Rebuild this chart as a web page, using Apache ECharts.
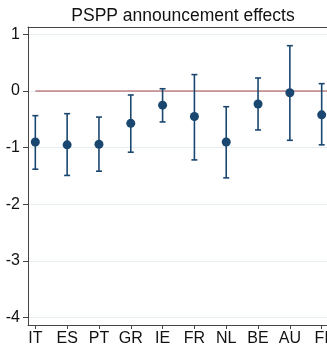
<!DOCTYPE html>
<html>
<head>
<meta charset="utf-8">
<script src="https://cdn.jsdelivr.net/npm/echarts@6/dist/echarts.min.js"></script>
<style>
  html, body { margin: 0; padding: 0; background: #fff; }
  #chart { width: 327px; height: 347px; }
</style>
</head>
<body>
<div id="chart"></div>
<script>
// 国家与估计值
const countries = ['IT', 'ES', 'PT', 'GR', 'IE', 'FR', 'NL', 'BE', 'AU', 'FI'];
const estimates = [-0.90, -0.95, -0.94, -0.57, -0.25, -0.45, -0.90, -0.23, -0.03, -0.42];
const lower = [-1.38, -1.49, -1.415, -1.08, -0.546, -1.216, -1.533, -0.687, -0.87, -0.95];
const upper = [-0.435, -0.40, -0.46, -0.07, 0.04, 0.29, -0.277, 0.23, 0.80, 0.13];
const yTicks = [-4, -3, -2, -1, 0, 1];
const xPos = countries.map((c, i) => i + 1);

const xMin = 0.77;
const xMax = 10.23;
const navy = '#1a476f';
const axisColor = '#444';
const font = 'Liberation Sans, Arial, sans-serif';

const chart = echarts.init(document.getElementById('chart'), null, { renderer: 'canvas' });

const option = {
  backgroundColor: '#fff',
  animation: false,
  title: {
    text: 'PSPP announcement effects',
    left: 178,
    textAlign: 'center',
    top: 2,
    textStyle: { fontSize: 17.5, fontWeight: 'normal', color: '#111', fontFamily: font }
  },
  grid: {
    left: 28,
    right: -2,
    top: 27,
    bottom: 22,
    containLabel: false,
    outerBoundsMode: 'none'
  },
  xAxis: [{
    type: 'value',
    min: xMin,
    max: xMax,
    axisLine: { show: true, onZero: false, lineStyle: { color: axisColor, width: 1 } },
    axisTick: { show: true, length: 4, customValues: xPos, lineStyle: { color: axisColor } },
    axisLabel: {
      customValues: xPos,
      margin: 6,
      color: '#111',
      fontSize: 16,
      fontFamily: font,
      formatter: v => countries[Math.round(v) - 1] || ''
    },
    splitLine: { show: false }
  }, {
    type: 'value',
    position: 'top',
    min: xMin,
    max: xMax,
    axisLine: { show: true, onZero: false, lineStyle: { color: axisColor, width: 1 } },
    axisTick: { show: false },
    axisLabel: { show: false },
    splitLine: { show: false }
  }],
  yAxis: {
    type: 'value',
    min: -4.13,
    max: 1.13,
    axisLine: { show: true, onZero: false, lineStyle: { color: axisColor, width: 1 } },
    axisTick: { show: true, length: 5, customValues: yTicks, lineStyle: { color: axisColor } },
    axisLabel: {
      customValues: yTicks,
      margin: 8,
      color: '#111',
      fontSize: 16,
      fontFamily: font
    },
    splitLine: { show: true, lineStyle: { color: '#e6eef1', width: 1 } }
  },
  series: [{
    // 零参考线
    type: 'line',
    data: [[xPos[0], 0], [xMax, 0]],
    symbol: 'none',
    silent: true,
    lineStyle: { color: '#a3464a', width: 1 },
    itemStyle: { color: '#a3464a' },
    z: 1
  }, {
    type: 'custom',
    // 误差线（带帽）
    renderItem: function (params, api) {
      const x = api.value(0);
      const lo = api.coord([x, api.value(1)]);
      const hi = api.coord([x, api.value(2)]);
      const cap = 3;
      const style = { stroke: navy, lineWidth: 1.6 };
      return {
        type: 'group',
        children: [
          { type: 'line', shape: { x1: lo[0], y1: lo[1], x2: hi[0], y2: hi[1] }, style: style },
          { type: 'line', shape: { x1: lo[0] - cap, y1: lo[1], x2: lo[0] + cap, y2: lo[1] }, style: style },
          { type: 'line', shape: { x1: hi[0] - cap, y1: hi[1], x2: hi[0] + cap, y2: hi[1] }, style: style }
        ]
      };
    },
    data: xPos.map((x, i) => [x, lower[i], upper[i]]),
    z: 3
  }, {
    type: 'scatter',
    symbol: 'circle',
    symbolSize: 9,
    itemStyle: { color: navy, opacity: 1 },
    data: xPos.map((x, i) => [x, estimates[i]]),
    z: 4
  }]
};

chart.setOption(option);
</script>
</body>
</html>
